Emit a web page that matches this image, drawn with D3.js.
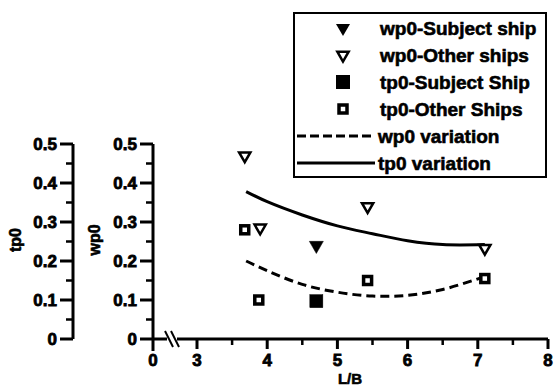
<!DOCTYPE html>
<html>
<head>
<meta charset="utf-8">
<script src="https://cdn.jsdelivr.net/npm/d3@7"></script>
<style>
  body { margin: 0; background: #fff; }
  text { font-family: "Liberation Sans", Arial, sans-serif; font-weight: bold; fill: #000; }
</style>
</head>
<body>
<script>
let width = 555
let height = 387

// data
let wpSubjectX = [4.7]
let wpSubjectY = [0.24]
let wpOtherX = [3.68, 3.9, 5.43, 7.1]
let wpOtherY = [0.47, 0.285, 0.34, 0.233]
let tpSubjectX = [4.7]
let tpSubjectY = [0.097]
let tpOtherX = [3.68, 3.88, 5.43, 7.1]
let tpOtherY = [0.28, 0.1, 0.15, 0.155]
let wpCurveX = [3.7, 4.0, 4.5, 5.0, 5.5, 6.0, 6.5, 7.1]
let wpCurveY = [0.2, 0.175, 0.14, 0.12, 0.11, 0.112, 0.127, 0.16]
let tpCurveX = [3.7, 4.0, 4.5, 5.0, 5.5, 6.0, 6.5, 7.1]
let tpCurveY = [0.378, 0.352, 0.318, 0.29, 0.27, 0.252, 0.242, 0.242]
let xTicks = [3, 4, 5, 6, 7, 8]
let xMinor = [3.5, 4.5, 5.5, 6.5, 7.5]
let yTicks = [0, 0.1, 0.2, 0.3, 0.4, 0.5]
let yMinor = [0.05, 0.15, 0.25, 0.35, 0.45]
let legendLabels = ["wp0-Subject ship", "wp0-Other ships", "tp0-Subject Ship", "tp0-Other Ships", "wp0 variation", "tp0 variation"]

let svg = d3.select("body").append("svg")
	.attr("width", width)
	.attr("height", height)

let x = d3.scaleLinear().domain([3, 8]).range([197, 548])
let y = d3.scaleLinear().domain([0, 0.5]).range([339, 144])
let xZero = 153
let tpAxisX = 73

let zip = (a, b) => a.map((v, i) => [v, b[i]])

// x axis
let xAxis = svg.append("g").attr("transform", "translate(0," + y(0) + ")")
xAxis.append("line").attr("x1", xZero).attr("x2", x(8)).attr("stroke", "#000").attr("stroke-width", 3)
xAxis.selectAll(".maj").data(xTicks).enter().append("line")
	.attr("x1", d => x(d)).attr("x2", d => x(d)).attr("y1", 0).attr("y2", 10)
	.attr("stroke", "#000").attr("stroke-width", 3)
xAxis.selectAll(".min").data(xMinor).enter().append("line")
	.attr("x1", d => x(d)).attr("x2", d => x(d)).attr("y1", 0).attr("y2", 6)
	.attr("stroke", "#000").attr("stroke-width", 2.5)
xAxis.selectAll(".lab").data(xTicks).enter().append("text")
	.attr("x", d => x(d)).attr("y", 27)
	.attr("text-anchor", "middle").attr("font-size", 17)
	.attr("stroke", "#000").attr("stroke-width", 0.8)
	.text(d => d)
// zero at origin
xAxis.append("line").attr("x1", xZero).attr("x2", xZero).attr("y1", 0).attr("y2", 12)
	.attr("stroke", "#000").attr("stroke-width", 3)
xAxis.append("text").attr("x", xZero).attr("y", 27)
	.attr("text-anchor", "middle").attr("font-size", 17)
	.attr("stroke", "#000").attr("stroke-width", 0.8).text("0")
// break mark
let brk = xAxis.append("g").attr("transform", "translate(172,0)")
brk.append("rect").attr("x", -5).attr("y", -3).attr("width", 10).attr("height", 6).attr("fill", "#fff")
;[-3, 3].forEach(o => brk.append("line")
	.attr("x1", o - 4).attr("y1", -8).attr("x2", o + 4).attr("y2", 8)
	.attr("stroke", "#000").attr("stroke-width", 2))

svg.append("text").attr("x", 350).attr("y", 384)
	.attr("text-anchor", "middle").attr("font-size", 15)
	.attr("stroke", "#000").attr("stroke-width", 0.6).text("L/B")

// y axes (tp0 and wp0 share the same scale)
let drawYAxis = function(ax, label, labelX) {
	let g = svg.append("g").attr("transform", "translate(" + ax + ",0)")
	g.append("line").attr("y1", y(0.5)).attr("y2", y(0)).attr("stroke", "#000").attr("stroke-width", 3)
	g.selectAll(".maj").data(yTicks).enter().append("line")
		.attr("x1", -13).attr("x2", 0).attr("y1", d => y(d)).attr("y2", d => y(d))
		.attr("stroke", "#000").attr("stroke-width", 3)
	g.selectAll(".min").data(yMinor).enter().append("line")
		.attr("x1", -7).attr("x2", 0).attr("y1", d => y(d)).attr("y2", d => y(d))
		.attr("stroke", "#000").attr("stroke-width", 2.5)
	g.selectAll(".lab").data(yTicks).enter().append("text")
		.attr("x", -16).attr("y", d => y(d)).attr("dy", "0.36em")
		.attr("text-anchor", "end").attr("font-size", 17)
		.attr("stroke", "#000").attr("stroke-width", 0.8)
		.text(d => d === 0 ? "0" : d.toFixed(1))
	svg.append("text")
		.attr("transform", "translate(" + labelX + "," + 240 + ") rotate(-90)")
		.attr("text-anchor", "middle").attr("dy", "0.36em").attr("font-size", 16)
		.attr("stroke", "#000").attr("stroke-width", 0.6)
		.text(label)
}
drawYAxis(tpAxisX, "tp0", 15)
drawYAxis(xZero, "wp0", 94)

// curves
let line = d3.line().x(d => x(d[0])).y(d => y(d[1])).curve(d3.curveCatmullRom)
svg.append("path").attr("d", line(zip(tpCurveX, tpCurveY)))
	.attr("fill", "none").attr("stroke", "#000").attr("stroke-width", 3)
svg.append("path").attr("d", line(zip(wpCurveX, wpCurveY)))
	.attr("fill", "none").attr("stroke", "#000").attr("stroke-width", 3)
	.attr("stroke-dasharray", "9,5")

// markers
let triFull = d3.symbol().type(d3.symbolTriangle).size(85)
let triOpen = d3.symbol().type(d3.symbolTriangle).size(55)
let addTriangles = function(xs, ys, filled) {
	svg.selectAll(null).data(zip(xs, ys)).enter().append("path")
		.attr("d", filled ? triFull : triOpen)
		.attr("transform", d => "translate(" + x(d[0]) + "," + y(d[1]) + ") rotate(180)")
		.attr("fill", filled ? "#000" : "#fff")
		.attr("stroke", "#000").attr("stroke-width", filled ? 0.5 : 2.5)
}
let addSquares = function(xs, ys, filled) {
	let s = filled ? 13 : 8
	svg.selectAll(null).data(zip(xs, ys)).enter().append("rect")
		.attr("x", d => x(d[0]) - s / 2).attr("y", d => y(d[1]) - s / 2)
		.attr("width", s).attr("height", s)
		.attr("fill", filled ? "#000" : "#fff")
		.attr("stroke", "#000").attr("stroke-width", filled ? 0.5 : 3.5)
}
addTriangles(wpOtherX, wpOtherY, false)
addTriangles(wpSubjectX, wpSubjectY, true)
addSquares(tpOtherX, tpOtherY, false)
addSquares(tpSubjectX, tpSubjectY, true)

// legend
let legend = svg.append("g")
legend.append("rect").attr("x", 294).attr("y", 13).attr("width", 252).attr("height", 164)
	.attr("fill", "#fff").attr("stroke", "#000").attr("stroke-width", 2)
let rowY = i => 28 + i * 27
legend.selectAll("text").data(legendLabels).enter().append("text")
	.attr("x", (d, i) => i < 4 ? 380 : 378).attr("y", (d, i) => rowY(i)).attr("dy", "0.36em")
	.attr("font-size", 19).attr("stroke", "#000").attr("stroke-width", 0.6)
	.text(d => d)
legend.append("path").attr("d", triFull)
	.attr("transform", "translate(343," + rowY(0) + ") rotate(180)").attr("fill", "#000")
legend.append("path").attr("d", triOpen)
	.attr("transform", "translate(343," + rowY(1) + ") rotate(180)").attr("fill", "#fff")
	.attr("stroke", "#000").attr("stroke-width", 2.5)
legend.append("rect").attr("x", 336).attr("y", rowY(2) - 7).attr("width", 14).attr("height", 14).attr("fill", "#000")
legend.append("rect").attr("x", 339).attr("y", rowY(3) - 4).attr("width", 8).attr("height", 8)
	.attr("fill", "#fff").attr("stroke", "#000").attr("stroke-width", 3.5)
legend.append("line").attr("x1", 297).attr("x2", 375).attr("y1", rowY(4)).attr("y2", rowY(4))
	.attr("stroke", "#000").attr("stroke-width", 3).attr("stroke-dasharray", "9,4")
legend.append("line").attr("x1", 297).attr("x2", 375).attr("y1", rowY(5)).attr("y2", rowY(5))
	.attr("stroke", "#000").attr("stroke-width", 3)
</script>
</body>
</html>
